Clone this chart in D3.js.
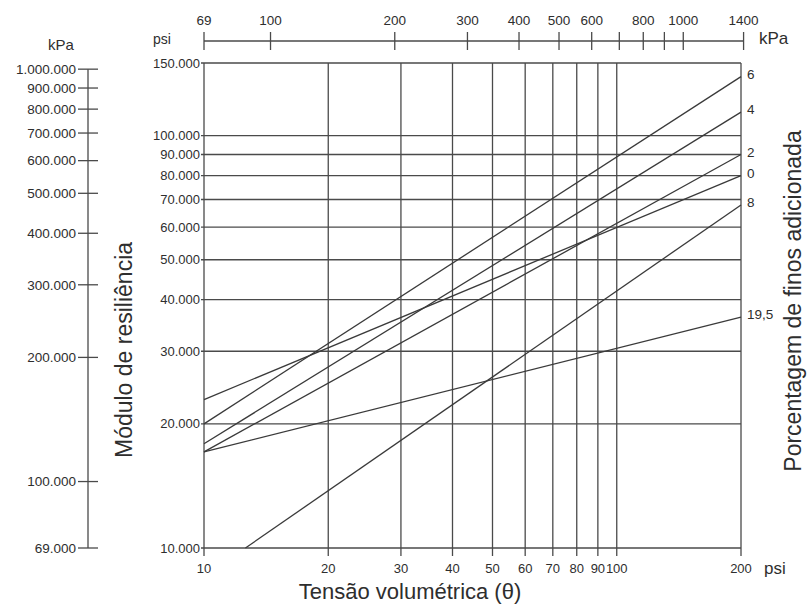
<!DOCTYPE html>
<html>
<head>
<meta charset="utf-8">
<script src="https://cdn.jsdelivr.net/npm/d3@7"></script>
<style>
    body { margin: 0; background: #fff; }
    text { font-family: "Liberation Sans", Arial, sans-serif; fill: #2e2e2e; }
</style>
</head>
<body>
<div class="usable"></div>
<script>
// eixo x: tensão volumétrica (psi)
const thetaTicks = [10, 20, 30, 40, 50, 60, 70, 80, 90, 100, 200];
// eixo y: módulo de resiliência (psi)
const moduloTicks = [10000, 20000, 30000, 40000, 50000, 60000, 70000, 80000, 90000, 100000, 150000];
// eixo auxiliar em kPa (esquerda)
const kpaModuloTicks = [69000, 100000, 200000, 300000, 400000, 500000, 600000, 700000, 800000, 900000, 1000000];
// eixo auxiliar em kPa (topo)
const kpaTensaoTicks = [69, 100, 200, 300, 400, 500, 600, 700, 800, 900, 1000, 1400];
const kpaTensaoLabels = ["69", "100", "200", "300", "400", "500", "600", "", "800", "", "1000", "1400"];

// retas: porcentagem de finos adicionada
const finos = ["6", "4", "2", "0", "8", "19,5"];
const thetaInicio = [10, 10, 10, 10, 12.6, 10];
const moduloInicio = [20000, 17900, 17100, 22900, 10000, 17100];
const thetaFim = [200, 200, 200, 200, 200, 200];
const moduloFim = [139000, 114000, 90000, 80000, 67900, 36300];

const psiKpa = 6.9;
const cor = "#4a4a4a";

let fmt = d3.formatLocale({ decimal: ",", thousands: ".", grouping: [3], currency: ["", ""] }).format(",d");

let svg = d3.select(".usable").append("svg")
    .attr("width", 811)
    .attr("height", 613);

let x = d3.scaleLog().domain([10, 200]).range([204, 741]);
let y = d3.scaleLog().domain([10000, 150000]).range([548, 63]);
let xKpa = d3.scaleLog().domain([10 * psiKpa, 200 * psiKpa]).range([204, 741]);
let yKpa = d3.scaleLog().domain([10000 * psiKpa, 150000 * psiKpa]).range([548, 63]);

// grade
let grade = svg.append("g").attr("stroke", cor).attr("stroke-width", 1.3);

grade.selectAll(".v").data(thetaTicks).enter().append("line")
    .attr("x1", d => x(d)).attr("x2", d => x(d))
    .attr("y1", y(150000)).attr("y2", y(10000) + 8);

grade.selectAll(".h").data(moduloTicks).enter().append("line")
    .attr("x1", x(10) - 3).attr("x2", x(200))
    .attr("y1", d => y(d)).attr("y2", d => y(d));

// rótulos eixo x
svg.append("g").selectAll("text").data(thetaTicks).enter().append("text")
    .attr("x", d => x(d)).attr("y", 573)
    .attr("text-anchor", "middle")
    .style("font-size", "13px")
    .text(d => d);

svg.append("text").attr("x", 764).attr("y", 574)
    .style("font-size", "17px").text("psi");

svg.append("text").attr("x", 410).attr("y", 599)
    .attr("text-anchor", "middle")
    .style("font-size", "22px")
    .text("Tensão volumétrica (θ)");

// rótulos eixo y
svg.append("g").selectAll("text").data(moduloTicks).enter().append("text")
    .attr("x", 200).attr("y", d => y(d))
    .attr("dy", "0.35em")
    .attr("text-anchor", "end")
    .style("font-size", "13px")
    .text(d => fmt(d));

svg.append("text").attr("x", 153).attr("y", 44)
    .style("font-size", "14px").text("psi");

svg.append("text")
    .attr("transform", "translate(132,350) rotate(-90)")
    .attr("text-anchor", "middle")
    .style("font-size", "23px")
    .text("Módulo de resiliência");

// eixo kPa à esquerda
let eixoEsq = svg.append("g").attr("stroke", cor).attr("stroke-width", 1.3);
eixoEsq.append("line")
    .attr("x1", 88).attr("x2", 88)
    .attr("y1", yKpa(1000000)).attr("y2", yKpa(69000));
eixoEsq.selectAll(".t").data(kpaModuloTicks).enter().append("line")
    .attr("x1", 78).attr("x2", 98)
    .attr("y1", d => yKpa(d)).attr("y2", d => yKpa(d));

svg.append("g").selectAll("text").data(kpaModuloTicks).enter().append("text")
    .attr("x", 76).attr("y", d => yKpa(d))
    .attr("dy", "0.35em")
    .attr("text-anchor", "end")
    .style("font-size", "13.5px")
    .text(d => fmt(d));

svg.append("text").attr("x", 61).attr("y", 50)
    .attr("text-anchor", "middle")
    .style("font-size", "15px").text("kPa");

// eixo kPa no topo
let eixoTopo = svg.append("g").attr("stroke", cor).attr("stroke-width", 1.3);
eixoTopo.append("line")
    .attr("x1", xKpa(69)).attr("x2", xKpa(1400))
    .attr("y1", 41).attr("y2", 41);
eixoTopo.selectAll(".t").data(kpaTensaoTicks).enter().append("line")
    .attr("x1", d => xKpa(d)).attr("x2", d => xKpa(d))
    .attr("y1", 32).attr("y2", 50);

svg.append("g").selectAll("text").data(kpaTensaoTicks).enter().append("text")
    .attr("x", d => xKpa(d)).attr("y", 25)
    .attr("text-anchor", "middle")
    .style("font-size", "13.5px")
    .text((d, i) => kpaTensaoLabels[i]);

svg.append("text").attr("x", 759).attr("y", 44)
    .style("font-size", "17px").text("kPa");

// retas
let linha = d3.line().x(d => x(d[0])).y(d => y(d[1]));
let retas = finos.map((f, i) => [[thetaInicio[i], moduloInicio[i]], [thetaFim[i], moduloFim[i]]]);

svg.append("g").selectAll("path").data(retas).enter().append("path")
    .attr("d", linha)
    .attr("fill", "none")
    .attr("stroke", "#3a3a3a")
    .attr("stroke-width", 1.3);

svg.append("g").selectAll("text").data(finos).enter().append("text")
    .attr("x", 747)
    .attr("y", (d, i) => y(moduloFim[i]) - 2.5)
    .attr("dy", "0.35em")
    .style("font-size", "13.5px")
    .text(d => d);

svg.append("text")
    .attr("transform", "translate(801,301) rotate(-90)")
    .attr("text-anchor", "middle")
    .style("font-size", "23px")
    .text("Porcentagem de finos adicionada");
</script>
</body>
</html>
